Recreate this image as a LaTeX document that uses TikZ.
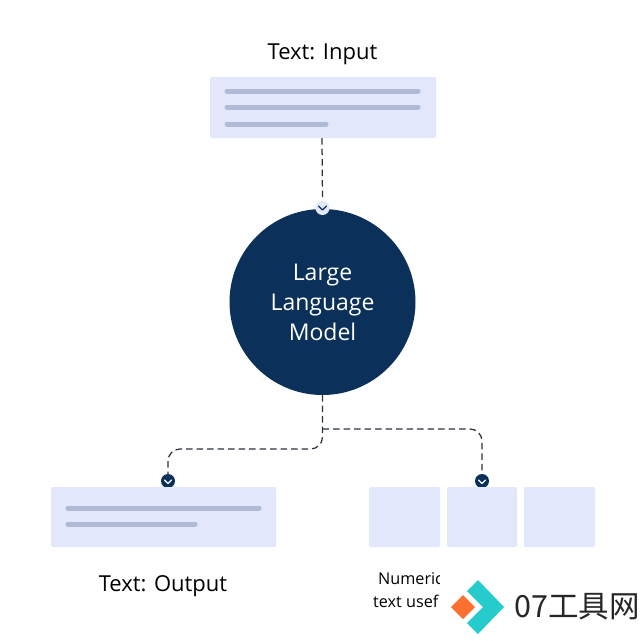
\documentclass[tikz,border=0pt]{standalone}
\usepackage{fontspec}
\setmainfont{Open Sans}
\newfontfamily\cjkf{Noto Sans CJK SC}
\definecolor{navy}{HTML}{0B3059}
\definecolor{panel}{HTML}{E2E7FB}
\definecolor{barc}{HTML}{AEBAD6}
\definecolor{dashc}{HTML}{2A3240}
\definecolor{teal}{HTML}{26CCCB}
\definecolor{orng}{HTML}{FB6F2F}
\tikzset{
 panelbox/.style={fill=panel,rounded corners=2pt,draw=none},
 barline/.style={line width=5pt,color=barc,line cap=round},
 conn/.style={dashc,line width=1.25pt,dash pattern=on 6.5pt off 4pt},
 lbl/.style={font=\fontsize{22}{26}\selectfont,text=black,inner sep=0pt},
 dot/.style={circle,fill=navy,minimum size=14pt,inner sep=0pt},
 chev/.style={white,line width=1.1pt,line cap=round,line join=round},
}
\begin{document}
\begin{tikzpicture}[x=1pt,y=-1pt]
\useasboundingbox (0,0) rectangle (640,641);
\fill[white] (0,0) rectangle (640,641);
% top panel
\node[lbl] (tin) at (322.5,54) {Text: Input};
\fill[panelbox] (210,77) rectangle (436,138);
\coordinate (inb) at (322,138);
\draw[barline] (227,91) -- (418,91);
\draw[barline] (227,107) -- (418,107);
\draw[barline] (227,124) -- (326,124);
% circle
\node[circle,fill=navy,minimum size=186pt,inner sep=0pt,align=center,text=white,font=\fontsize{23}{30}\selectfont] (llm) at (322.5,302) {Large\\Language\\Model};
% top connector
\node[circle,fill=panel,minimum size=14pt,inner sep=0pt] (tdot) at (322.5,208) {};
\draw[conn] (inb) -- (tdot.north);
\draw[navy,line width=1.1pt,line cap=round,line join=round] (318.5,206) -- (322.5,210) -- (326.5,206);
% bottom dots
\node[dot] (ldot) at (168,481) {};
\node[dot] (rdot) at (482,481) {};
\draw[chev] (164.5,480) -- (168,483.5) -- (171.5,480);
\draw[chev] (478.5,480) -- (482,483.5) -- (485.5,480);
\coordinate (junc) at (322.5,429);
\draw[conn,rounded corners=12pt] (llm.south) -- (322.5,449) -- (168,449) -- (ldot.north);
\draw[conn,rounded corners=12pt] (junc) -- (482,429) -- (rdot.north);
% bottom panels
\fill[panelbox] (51,487) rectangle (276,547);
\draw[barline] (68,508) -- (259,508);
\draw[barline] (68,524) -- (195,524);
\fill[panelbox] (369,487) rectangle (440,547);
\fill[panelbox] (447,487) rectangle (517,547);
\fill[panelbox] (524,487) rectangle (595,547);
\node[lbl] (tout) at (163,586) {Text: Output};
% clipped caption
\node[font=\fontsize{16.2}{18}\selectfont,inner sep=0pt,anchor=west] (n1) at (378,579) {Numeric};
\node[font=\fontsize{16.2}{18}\selectfont,inner sep=0pt,anchor=west] (n2) at (373,601) {text usef};
% watermark
\fill[white] (439.5,566) rectangle (640,641);
\fill[teal] (478,580) -- (504,607) -- (478,634) -- (467,623) -- (483,607) -- (467,591) -- cycle;
\fill[orng] (463,595) -- (475,607) -- (463,619) -- (451,607) -- cycle;
\node[font=\cjkf\fontsize{30.5}{34}\selectfont,text=black!85,inner sep=0pt] (wm) at (577,607) {07工具网};
\end{tikzpicture}
\end{document}
